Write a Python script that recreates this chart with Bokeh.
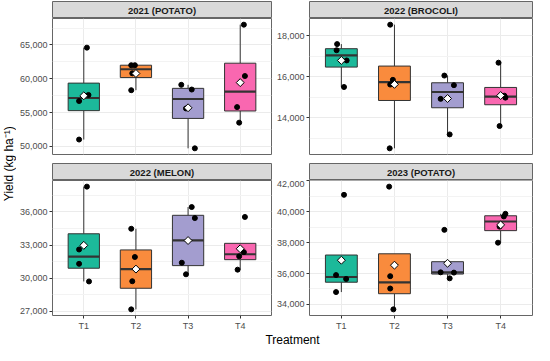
import numpy as np
from math import pi
from bokeh.plotting import figure
from bokeh.layouts import column, row
from bokeh.models import Range1d, FixedTicker, NumeralTickFormatter, ColumnDataSource
from bokeh.core.properties import value
from bokeh.embed import file_html
from bokeh.resources import INLINE

# ---------------- data ----------------
treatments = ["T1", "T2", "T3", "T4"]
panel_titles = ["2021 (POTATO)", "2022 (BROCOLI)", "2022 (MELON)", "2023 (POTATO)"]
colors = ["#1CB99A", "#F98B3D", "#A39DCF", "#F967B0"]

potato_2021 = [[64600, 57600, 56700, 51000],
               [62000, 62000, 60800, 58300],
               [59100, 58400, 55600, 49700],
               [68000, 60400, 55800, 53500]]
broccoli_2022 = [[17600, 17300, 16800, 15500],
                 [18550, 15850, 15620, 12500],
                 [16060, 15590, 14920, 13180],
                 [16690, 15075, 14980, 13590]]
melon_2022 = [[38300, 32600, 31300, 29700],
              [34480, 31920, 29720, 27170],
              [31400, 36450, 35450, 30350],
              [35550, 31980, 32360, 30770]]
potato_2023 = [[41100, 35900, 35650, 34800],
               [41630, 35830, 35030, 33680],
               [38830, 36080, 36060, 35690],
               [39870, 39700, 38000, 39040]]

# horizontal jitter of the points (category units)
jitter_potato_2021 = [[0.06, 0.09, -0.09, -0.09], [-0.09, -0.02, -0.07, -0.09],
                      [-0.13, 0.07, -0.04, 0.13], [0.07, 0.09, -0.06, -0.02]]
jitter_broccoli_2022 = [[-0.08, -0.09, 0.10, 0.05], [-0.08, -0.03, -0.08, -0.09],
                        [-0.06, 0.12, -0.13, 0.04], [-0.04, 0.07, 0.09, -0.02]]
jitter_melon_2022 = [[0.06, -0.09, -0.09, 0.10], [-0.09, -0.02, -0.07, -0.09],
                     [-0.12, 0.07, 0.13, -0.04], [0.09, -0.02, 0.07, -0.05]]
jitter_potato_2023 = [[0.05, -0.10, 0.09, -0.10], [-0.10, -0.08, -0.08, -0.02],
                      [-0.06, -0.13, 0.12, 0.04], [0.09, 0.06, -0.05, -0.02]]

yticks_potato_2021 = [50000, 55000, 60000, 65000]
yminor_potato_2021 = [47500, 52500, 57500, 62500, 67500]
yticks_broccoli_2022 = [14000, 16000, 18000]
yminor_broccoli_2022 = [13000, 15000, 17000, 19000]
yticks_melon_2022 = [27000, 30000, 33000, 36000]
yminor_melon_2022 = [25500, 28500, 31500, 34500, 37500]
yticks_potato_2023 = [34000, 36000, 38000, 40000, 42000]
yminor_potato_2023 = [33000, 35000, 37000, 39000, 41000]

# ---------------- style ----------------
FONT = "Liberation Sans"
TICK_COL = "#4D4D4D"
DARK = "#333333"
BORDER = "#666666"
GRID = "#EBEBEB"
FRAME_W = 223
FRAME_H = 136


def stats(vals):
    v = np.array(vals, dtype=float)
    q1, med, q3 = np.percentile(v, [25, 50, 75])
    iqr = q3 - q1
    up = v[v <= q3 + 1.5 * iqr].max()
    lo = v[v >= q1 - 1.5 * iqr].min()
    return q1, med, q3, max(up, q3), min(lo, q1), v.mean()


def strip_fig(title, width, bl, br):
    p = figure(width=width, height=18, x_range=Range1d(0, 1), y_range=Range1d(0, 1),
               x_axis_location=None, y_axis_location=None, toolbar_location=None, tools="",
               output_backend="svg", min_border_left=bl, min_border_right=br,
               min_border_top=1, min_border_bottom=0)
    p.grid.visible = False
    p.background_fill_color = "#D9D9D9"
    p.border_fill_color = "white"
    p.outline_line_color = BORDER
    p.outline_line_width = 1
    p.text(x=[0.5], y=[0.5], text=[title], text_align="center", text_baseline="middle",
           text_font=value(FONT), text_font_style="bold", text_font_size="9.5px",
           text_color="#1A1A1A")
    return p


def style_axis(ax):
    ax.axis_line_color = None
    ax.major_tick_out = 3
    ax.major_tick_in = 0
    ax.major_tick_line_color = DARK
    ax.minor_tick_line_color = None
    ax.major_label_standoff = 1
    ax.major_label_text_font = FONT
    ax.major_label_text_font_size = "9px"
    ax.major_label_text_color = TICK_COL


def panel_fig(data, jitter, yt, ym, bl, br, bb, show_x):
    allv = [v for vs in data for v in vs]
    lo, hi = min(allv), max(allv)
    pad = 0.05 * (hi - lo)
    p = figure(width=bl + FRAME_W + br, height=FRAME_H + bb,
               x_range=Range1d(0.4, 4.6), y_range=Range1d(lo - pad, hi + pad),
               x_axis_location="below" if show_x else None,
               toolbar_location=None, tools="", output_backend="svg",
               min_border_left=bl, min_border_right=br, min_border_top=0, min_border_bottom=bb)
    p.background_fill_color = "white"
    p.border_fill_color = "white"
    p.outline_line_color = BORDER
    p.outline_line_width = 1

    p.yaxis.ticker = FixedTicker(ticks=yt, minor_ticks=ym)
    p.yaxis.formatter = NumeralTickFormatter(format="0,0")
    for ax in p.yaxis:
        style_axis(ax)
    p.ygrid.grid_line_color = GRID
    p.ygrid.grid_line_width = 1
    p.ygrid.minor_grid_line_color = "#F3F3F3"
    p.ygrid.minor_grid_line_width = 1

    xt = FixedTicker(ticks=[1, 2, 3, 4])
    p.xgrid.ticker = xt
    p.xgrid.grid_line_color = GRID
    p.xgrid.grid_line_width = 1
    if show_x:
        p.xaxis.ticker = xt
        p.xaxis.major_label_overrides = {i + 1: t for i, t in enumerate(treatments)}
        for ax in p.xaxis:
            style_axis(ax)
            ax.major_label_standoff = 2

    xs = [i + 1 for i in range(len(treatments))]
    st = [stats(v) for v in data]
    src = ColumnDataSource(dict(
        x=xs,
        q1=[s[0] for s in st], med=[s[1] for s in st], q3=[s[2] for s in st],
        up=[s[3] for s in st], lo=[s[4] for s in st], mean=[s[5] for s in st],
        xl=[x - 0.3 for x in xs], xr=[x + 0.3 for x in xs], color=colors))
    p.segment(x0="x", y0="q3", x1="x", y1="up", line_color=DARK, line_width=1, source=src)
    p.segment(x0="x", y0="q1", x1="x", y1="lo", line_color=DARK, line_width=1, source=src)
    p.vbar(x="x", width=0.6, bottom="q1", top="q3", fill_color="color",
           line_color=DARK, line_width=1, source=src)
    p.segment(x0="xl", y0="med", x1="xr", y1="med", line_color=DARK, line_width=2.2, source=src)

    px, py = [], []
    for i, vals in enumerate(data):
        for v, j in zip(vals, jitter[i]):
            px.append(xs[i] + j)
            py.append(v)
    p.scatter(px, py, size=5, color="black")
    p.scatter(x="x", y="mean", marker="square", angle=pi / 4, size=5.6, fill_color="white",
              line_color="black", line_width=1, source=src)
    return p


YLAB_W = 16
L_BL, L_BR = 32, 1
R_BL, R_BR = 37, 2
LW = L_BL + FRAME_W + L_BR
RW = R_BL + FRAME_W + R_BR
GAP = 8
XAX = 17

tl = column(strip_fig(panel_titles[0], LW, L_BL, L_BR),
            panel_fig(potato_2021, jitter_potato_2021, yticks_potato_2021, yminor_potato_2021,
                      L_BL, L_BR, GAP, False))
tr = column(strip_fig(panel_titles[1], RW, R_BL, R_BR),
            panel_fig(broccoli_2022, jitter_broccoli_2022, yticks_broccoli_2022,
                      yminor_broccoli_2022, R_BL, R_BR, GAP, False))
bl = column(strip_fig(panel_titles[2], LW, L_BL, L_BR),
            panel_fig(melon_2022, jitter_melon_2022, yticks_melon_2022, yminor_melon_2022,
                      L_BL, L_BR, XAX, True))
br = column(strip_fig(panel_titles[3], RW, R_BL, R_BR),
            panel_fig(potato_2023, jitter_potato_2023, yticks_potato_2023, yminor_potato_2023,
                      R_BL, R_BR, XAX, True))

grid_h = 18 + FRAME_H + GAP + 18 + FRAME_H + XAX
TOTAL_W = YLAB_W + LW + RW
XLAB_H = 345 - grid_h


def label_fig(w, h, x, y, txt, angle):
    p = figure(width=w, height=h, x_range=Range1d(0, 1), y_range=Range1d(0, 1),
               x_axis_location=None, y_axis_location=None, toolbar_location=None, tools="",
               output_backend="svg", min_border_left=0, min_border_right=0,
               min_border_top=0, min_border_bottom=0)
    p.grid.visible = False
    p.outline_line_color = None
    p.background_fill_color = "white"
    p.border_fill_color = "white"
    p.text(x=[x], y=[y], text=[txt], angle=angle, text_align="center", text_baseline="middle",
           text_font=value(FONT), text_font_size="12px", text_color="black")
    return p


ylab = label_fig(YLAB_W, grid_h, 0.5, 0.51, "Yield (kg ha\u207b\u00b9)", pi / 2)
frames_center = (YLAB_W + L_BL + YLAB_W + LW + R_BL + FRAME_W) / 2.0
xlab = label_fig(TOTAL_W, XLAB_H, (frames_center + 2) / TOTAL_W, 0.5, "Treatment", 0)

layout = column(row(ylab, column(row(tl, tr), row(bl, br))), xlab)

open("out.html", "w").write(file_html(layout, INLINE))
